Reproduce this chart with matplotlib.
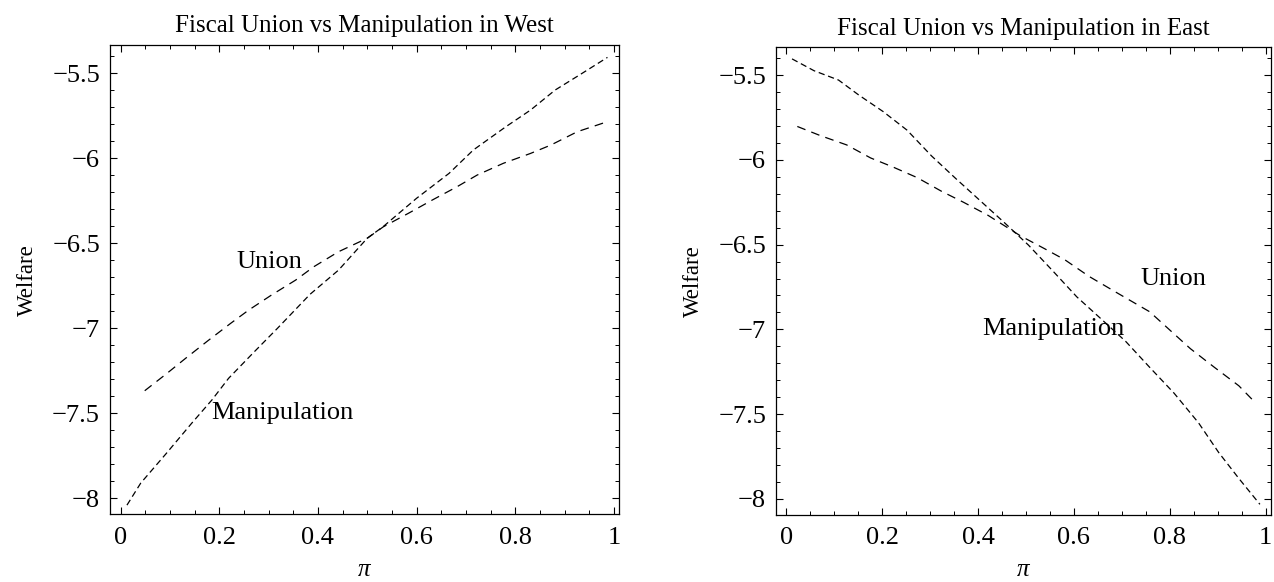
import matplotlib.pyplot as plt
from matplotlib.ticker import MultipleLocator

plt.rcParams['font.family'] = ['Liberation Serif', 'DejaVu Serif']

# West panel
west_manip_x = [0.013, 0.041, 0.093, 0.144, 0.185, 0.219, 0.268, 0.318, 0.384, 0.442,
                0.50, 0.533, 0.60, 0.666, 0.715, 0.781, 0.831, 0.881, 0.930, 0.987]
west_manip_y = [-8.04, -7.91, -7.735, -7.559, -7.422, -7.294, -7.147, -7.0, -6.80, -6.657,
                -6.47, -6.40, -6.235, -6.088, -5.951, -5.814, -5.716, -5.598, -5.51, -5.406]
west_union_x = [0.049, 0.094, 0.132, 0.177, 0.223, 0.260, 0.306, 0.355, 0.392, 0.442,
                0.50, 0.533, 0.583, 0.632, 0.682, 0.723, 0.776, 0.831, 0.872, 0.926, 0.987]
west_union_y = [-7.367, -7.265, -7.176, -7.073, -6.971, -6.892, -6.804, -6.716, -6.637, -6.549,
                -6.47, -6.402, -6.324, -6.245, -6.167, -6.098, -6.029, -5.971, -5.922, -5.843, -5.784]

# East panel
east_manip_x = [0.012, 0.058, 0.109, 0.151, 0.202, 0.252, 0.303, 0.353, 0.404, 0.455, 0.505,
                0.556, 0.606, 0.657, 0.708, 0.758, 0.809, 0.860, 0.902, 0.944, 0.988]
east_manip_y = [-5.403, -5.473, -5.528, -5.616, -5.714, -5.824, -5.976, -6.108, -6.239, -6.370, -6.502,
                -6.655, -6.808, -6.939, -7.071, -7.224, -7.377, -7.552, -7.727, -7.880, -8.033]
east_union_x = [0.023, 0.071, 0.126, 0.176, 0.223, 0.273, 0.324, 0.370, 0.421, 0.488,
                0.539, 0.581, 0.632, 0.691, 0.758, 0.809, 0.843, 0.893, 0.944, 0.974]
east_union_y = [-5.802, -5.856, -5.911, -5.988, -6.042, -6.104, -6.185, -6.250, -6.327, -6.447,
                -6.524, -6.589, -6.688, -6.786, -6.896, -7.027, -7.114, -7.224, -7.333, -7.420]

panels = [
    ("Fiscal Union vs Manipulation in West", west_union_x, west_union_y, west_manip_x, west_manip_y,
     (0.234, -6.61), (0.184, -7.50)),
    ("Fiscal Union vs Manipulation in East", east_union_x, east_union_y, east_manip_x, east_manip_y,
     (0.738, -6.70), (0.408, -6.995)),
]
positions = [[0.0861, 0.1163, 0.400, 0.8064], [0.6089, 0.1157, 0.3887, 0.8035]]

fig = plt.figure(figsize=(12.74, 5.82), dpi=100)

for pos, (title, ux, uy, mx, my, upos, mpos) in zip(positions, panels):
    ax = fig.add_axes(pos)
    ax.plot(ux, uy, color="black", linewidth=0.9, linestyle=(0, (7, 5)))
    ax.plot(mx, my, color="black", linewidth=0.9, linestyle=(0, (5, 3)))
    ax.text(upos[0], upos[1], "Union", fontsize=19, va="center", ha="left")
    ax.text(mpos[0], mpos[1], "Manipulation", fontsize=19, va="center", ha="left")

    ax.set_xlim(-0.022, 1.011)
    ax.set_ylim(-8.094, -5.333)
    ax.xaxis.set_minor_locator(MultipleLocator(0.05))
    ax.yaxis.set_minor_locator(MultipleLocator(0.1))
    ax.set_xticks([0, 0.2, 0.4, 0.6, 0.8, 1.0])
    ax.set_xticklabels(["0", "0.2", "0.4", "0.6", "0.8", "1"])
    ax.set_yticks([-8, -7.5, -7, -6.5, -6, -5.5])
    ax.set_yticklabels(["\u22128", "\u22127.5", "\u22127", "\u22126.5", "\u22126", "\u22125.5"])
    ax.tick_params(which="both", direction="in", top=True, right=True, labelsize=19)
    ax.tick_params(axis="y", pad=7)
    ax.tick_params(axis="x", pad=9)
    ax.tick_params(which="major", length=5, width=0.8)
    ax.tick_params(which="minor", length=3, width=0.7)
    for sp in ax.spines.values():
        sp.set_linewidth(0.9)

    ax.set_title(title, fontsize=18, pad=9)
    ax.set_xlabel("π", fontsize=18, style="italic", labelpad=7)
    ax.set_ylabel("Welfare", fontsize=16.5, labelpad=10)

fig.savefig("out.png", dpi=100)
